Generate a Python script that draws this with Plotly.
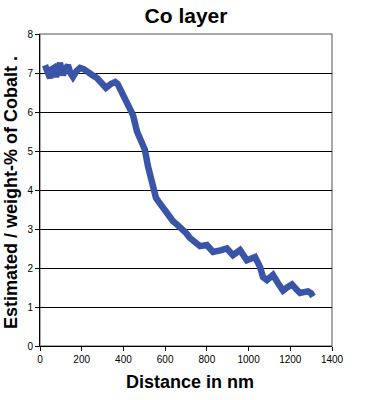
import plotly.graph_objects as go

distance_nm = [24, 36, 48, 58, 67, 77, 86, 96, 104, 110, 122, 134, 146, 158, 175, 192,
               210, 225, 250, 273, 295, 316, 340, 360, 372, 383, 400, 417, 432, 446,
               465, 485, 503, 518, 530, 542, 556, 566, 590, 615, 638, 660, 681, 700,
               719, 745, 767, 800, 830, 865, 896, 925, 959, 992, 1031, 1055, 1069,
               1088, 1117, 1140, 1165, 1185, 1208, 1230, 1247, 1265, 1285, 1300, 1309]
cobalt_wt = [7.2, 7.0, 6.87, 7.1, 7.13, 6.9, 7.15, 7.26, 7.05, 6.95, 7.1, 7.2, 7.0, 6.9,
             7.05, 7.13, 7.1, 7.03, 6.95, 6.87, 6.75, 6.62, 6.72, 6.77, 6.72, 6.6, 6.4,
             6.23, 6.1, 5.92, 5.5, 5.25, 5.03, 4.6, 4.3, 4.02, 3.8, 3.72, 3.54, 3.33,
             3.2, 3.1, 3.02, 2.9, 2.77, 2.65, 2.56, 2.59, 2.41, 2.45, 2.5, 2.33, 2.46,
             2.2, 2.28, 2.03, 1.77, 1.69, 1.82, 1.62, 1.42, 1.5, 1.58, 1.45, 1.36, 1.38,
             1.4, 1.35, 1.27]

x_ticks = [0, 200, 400, 600, 800, 1000, 1200, 1400]
y_ticks = [0, 1, 2, 3, 4, 5, 6, 7, 8]

fig = go.Figure()
fig.add_trace(go.Scatter(
    x=distance_nm, y=cobalt_wt, mode="lines",
    line=dict(color="#3A55A8", width=6.5), showlegend=False,
))

fig.update_layout(
    width=366, height=400,
    margin=dict(l=40, r=34, t=34, b=54, autoexpand=False),
    paper_bgcolor="white", plot_bgcolor="white",
    font=dict(family="Liberation Sans, Arial", color="black"),
    title=dict(text="<b>Co layer</b>", x=0.5, xref="paper", xanchor="center",
               y=1 - 16 / 400, yref="container", yanchor="middle",
               font=dict(size=21, family="Liberation Sans, Arial")),
    shapes=[dict(type="rect", xref="paper", yref="paper", x0=0, x1=1, y0=0, y1=1,
                 line=dict(color="#8c8c8c", width=1.5), layer="below")],
    annotations=[
        dict(text="<b>Distance in nm</b>", xref="paper", yref="paper", x=0.515, y=-0.115,
             xanchor="center", yanchor="middle", showarrow=False, font=dict(size=18)),
        dict(text="<b>Estimated / weight-% of Cobalt .</b>", xref="paper", yref="paper",
             x=-0.0993, y=0.49, xanchor="center", yanchor="middle", textangle=-90,
             showarrow=False, font=dict(size=18)),
    ],
)
fig.update_xaxes(
    range=[0, 1400], tickvals=x_ticks, ticks="outside", ticklen=4, tickcolor="black",
    showline=True, linecolor="black", linewidth=1, showgrid=False, zeroline=False,
    tickfont=dict(size=10), automargin=False,
)
fig.update_yaxes(
    range=[0, 8], tickvals=y_ticks, ticks="outside", ticklen=4, tickcolor="black",
    showline=True, linecolor="black", linewidth=1, showgrid=True, gridcolor="black",
    gridwidth=1, zeroline=False, tickfont=dict(size=10), automargin=False,
)

fig.write_html("out.html", config={"displayModeBar": False},
               post_script="document.body.style.margin='0';")
